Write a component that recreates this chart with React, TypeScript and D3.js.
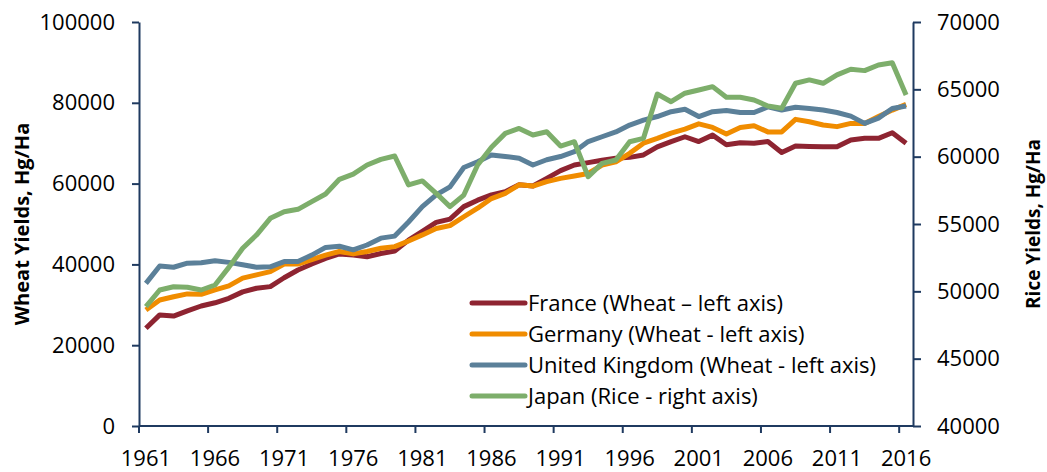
import React, { useEffect, useRef } from 'react';
import * as d3 from 'd3';

const years = d3.range(1961, 2017);

// Wheat yields, hg/ha (left axis)
const france = [
  24200, 27500, 27200, 28500, 29700, 30500, 31600, 33200, 34100, 34500,
  36700, 38600, 40100, 41500, 42600, 42300, 41900, 42700, 43300, 46000,
  48200, 50400, 51200, 54300, 55900, 57200, 58000, 59700, 59400, 61300,
  63200, 64600, 65200, 65800, 66300, 66500, 67100, 69100, 70400, 71600,
  70400, 72000, 69600, 70100, 70000, 70400, 67700, 69300, 69200, 69100,
  69100, 70800, 71200, 71200, 72600, 70000
];
const germany = [
  28700, 31200, 32000, 32700, 32600, 33700, 34700, 36600, 37400, 38200,
  40100, 40100, 41200, 42300, 43200, 42600, 43200, 44000, 44400, 45800,
  47300, 48900, 49600, 51800, 53900, 56300, 57600, 59700, 59400, 60500,
  61300, 61900, 62500, 64600, 65400, 67500, 70000, 71200, 72500, 73500,
  74800, 73900, 72300, 73900, 74300, 72800, 72800, 75900, 75300, 74500,
  74100, 74900, 74900, 76600, 78200, 79600
];
const uk = [
  35300, 39600, 39300, 40300, 40400, 40900, 40500, 39900, 39300, 39400,
  40700, 40700, 42300, 44200, 44500, 43600, 44800, 46500, 47000, 50500,
  54300, 57200, 59200, 64000, 65400, 67100, 66700, 66300, 64600, 65900,
  66700, 67900, 70400, 71600, 72800, 74500, 75700, 76600, 77800, 78400,
  76600, 77800, 78100, 77600, 77600, 79000, 78200, 78900, 78600, 78200,
  77600, 76700, 74900, 76200, 78600, 79200
];
// Rice yields, hg/ha (right axis)
const japan = [
  48860, 50100, 50340, 50300, 50100, 50470, 51780, 53200, 54180, 55420,
  55910, 56090, 56660, 57230, 58320, 58710, 59380, 59800, 60050, 57900,
  58200, 57280, 56290, 57150, 59380, 60700, 61730, 62100, 61610, 61850,
  60790, 61110, 58510, 59500, 59750, 61110, 61360, 64650, 64080, 64710,
  64950, 65200, 64410, 64410, 64210, 63760, 63590, 65450, 65700, 65450,
  66070, 66490, 66390, 66810, 66980, 64580
];

const leftTicks = [0, 20000, 40000, 60000, 80000, 100000];
const rightTicks = [40000, 45000, 50000, 55000, 60000, 65000, 70000];
const yearLabels = [1961, 1966, 1971, 1976, 1981, 1986, 1991, 1996, 2001, 2006, 2011, 2016];

const series = [
  { name: 'France (Wheat \u2013 left axis)', values: france, axis: 'left', color: '#8E2431' },
  { name: 'Germany (Wheat - left axis)', values: germany, axis: 'left', color: '#F08C00' },
  { name: 'United Kingdom (Wheat - left axis)', values: uk, axis: 'left', color: '#5B8099' },
  { name: 'Japan (Rice - right axis)', values: japan, axis: 'right', color: '#7DAE6B' }
];

const AXIS = '#1F3A60';
const FONT = '"Open Sans", sans-serif';

const App = () => {
  const svgRef = useRef<SVGSVGElement>(null);
  const width = 1047;
  const height = 472;
  const left = 139;
  const right = 913;
  const top = 22;
  const bottom = 426;

  useEffect(() => {
    const svg = d3.select(svgRef.current);
    svg.selectAll('*').remove();

    const x = d3.scaleBand<number>().domain(years).range([left, right]).padding(0);
    const cx = (yr: number) => (x(yr) as number) + x.bandwidth() / 2;
    const yL = d3.scaleLinear().domain([0, 100000]).range([bottom, top]);
    const yR = d3.scaleLinear().domain([40000, 70000]).range([bottom, top]);

    // lignes
    series.forEach(s => {
      const y = s.axis === 'left' ? yL : yR;
      const line = d3.line<number>()
        .x((d, i) => cx(years[i]))
        .y(d => y(d));
      svg.append('path')
        .datum(s.values)
        .attr('fill', 'none')
        .attr('stroke', s.color)
        .attr('stroke-width', 5)
        .attr('stroke-linejoin', 'round')
        .attr('d', line);
    });

    // axe gauche
    const gl = svg.append('g').attr('transform', `translate(${left},0)`)
      .call(d3.axisLeft(yL).tickValues(leftTicks).tickSize(7).tickSizeOuter(0).tickPadding(17).tickFormat(d3.format('d')));
    // axe droit
    const gr = svg.append('g').attr('transform', `translate(${right},0)`)
      .call(d3.axisRight(yR).tickValues(rightTicks).tickSize(8).tickSizeOuter(0).tickPadding(16).tickFormat(d3.format('d')));
    [gl, gr].forEach(g => {
      g.select('.domain').attr('stroke', AXIS).attr('stroke-width', 2);
      g.selectAll('.tick line').attr('stroke', AXIS).attr('stroke-width', 2);
      g.selectAll('.tick text')
        .attr('fill', '#000')
        .style('font-family', FONT)
        .style('font-size', '22px');
    });

    // axe du bas
    const gb = svg.append('g');
    gb.append('line')
      .attr('x1', left).attr('x2', right)
      .attr('y1', bottom).attr('y2', bottom)
      .attr('stroke', AXIS).attr('stroke-width', 2);
    yearLabels.forEach(yr => {
      gb.append('line')
        .attr('x1', x(yr) as number).attr('x2', x(yr) as number)
        .attr('y1', bottom).attr('y2', bottom + 7)
        .attr('stroke', AXIS).attr('stroke-width', 2);
      gb.append('text')
        .attr('x', cx(yr))
        .attr('y', bottom + 40)
        .attr('text-anchor', 'middle')
        .style('font-family', FONT)
        .style('font-size', '22px')
        .text(yr);
    });

    // titres des axes
    svg.append('text')
      .attr('transform', `translate(29,${(top + bottom) / 2}) rotate(-90)`)
      .attr('text-anchor', 'middle')
      .style('font-family', FONT)
      .style('font-size', '20px')
      .style('font-weight', 'bold')
      .text('Wheat Yields, Hg/Ha');
    svg.append('text')
      .attr('transform', `translate(1040,${(top + bottom) / 2}) rotate(-90)`)
      .attr('text-anchor', 'middle')
      .style('font-family', FONT)
      .style('font-size', '19px')
      .style('font-weight', 'bold')
      .text('Rice Yields, Hg/Ha');

    // légende
    const legend = svg.append('g').attr('transform', 'translate(472,303)');
    series.forEach((s, i) => {
      const row = legend.append('g').attr('transform', `translate(0,${i * 31})`);
      row.append('line')
        .attr('x1', 0).attr('x2', 53)
        .attr('stroke', s.color).attr('stroke-width', 5).attr('stroke-linecap', 'round');
      row.append('text')
        .attr('x', 56).attr('y', 8)
        .style('font-family', FONT)
        .style('font-size', '22px')
        .text(s.name);
    });
  }, []);

  return (
    <svg
      ref={svgRef}
      width={width}
      height={height}
      style={{ position: 'absolute', left: 0, top: 0, background: '#fff' }}
    />
  );
};

export default App;
